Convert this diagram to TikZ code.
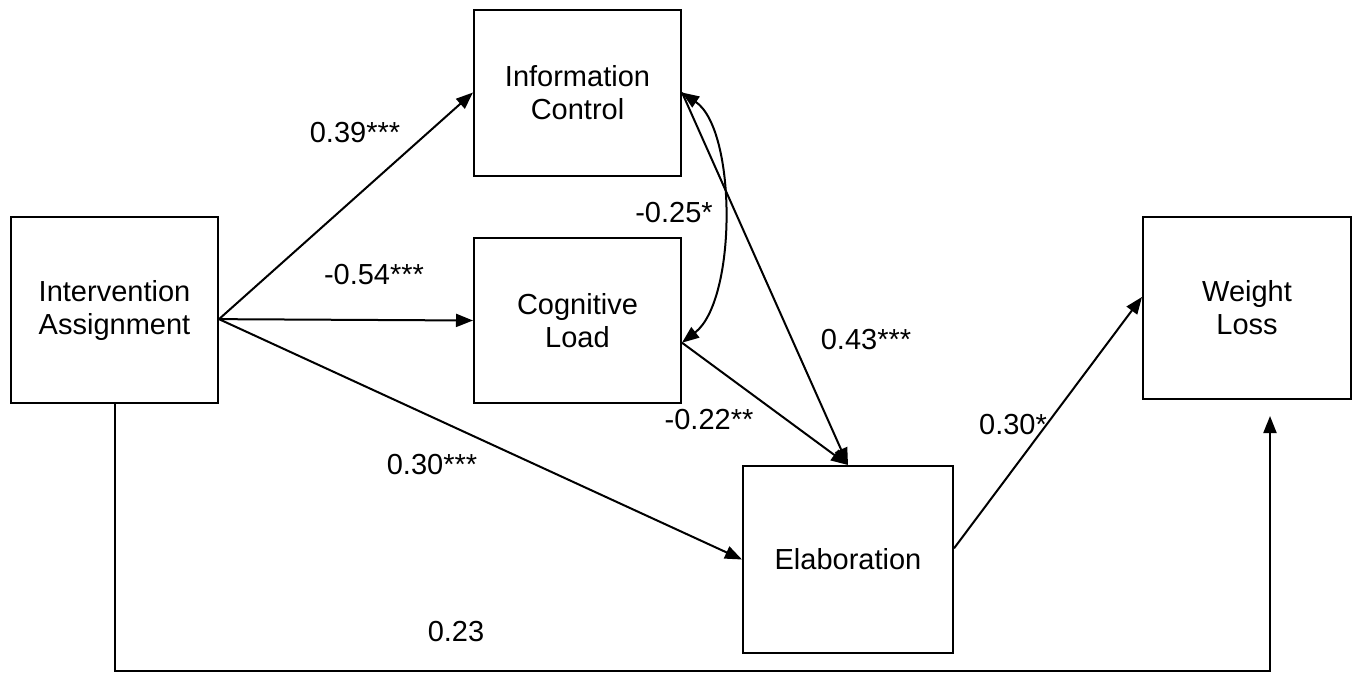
\documentclass[tikz,border=0pt]{standalone}
\usepackage{fontspec}
\setmainfont{Liberation Sans}
\usetikzlibrary{arrows.meta}

\tikzset{
  var/.style={draw,line width=2pt,minimum width=207pt,minimum height=166pt,
    align=center,inner sep=0pt},
  coef/.style={inner sep=0pt},
  path/.style={line width=2pt,-{Triangle[length=17pt,width=13pt]}},
}

\begin{document}
\begin{tikzpicture}[x=1pt,y=-1pt,font=\fontsize{29}{33}\selectfont]
\useasboundingbox (0,0) rectangle (1358,673);
% variables
\node[var,minimum height=186pt] (ia) at (114.5,310) {Intervention\\Assignment};
\node[var] (ic) at (577.5,92.5) {Information\\Control};
\node[var,minimum height=165pt] (cl) at (577.5,320.5) {Cognitive\\Load};
\node[var,minimum width=210pt,minimum height=187pt] (el) at (848,559.5) {Elaboration};
\node[var,minimum width=208pt,minimum height=182pt] (wl) at (1247,308) {Weight\\Loss};
\coordinate (corner) at (1270,671);
\coordinate (wltip) at (1270,416);
% paths
\foreach \a/\b in {ia.-5/ic.west,ia.-5/cl.west,ia.-5/el.west,ic.east/el.north,cl.-12/el.north,el.6/wl.174}
  \draw[path] (\a)--(\b);
\draw[path] (ia.south) |- (corner) -- (wltip);
\draw[line width=2pt,{Triangle[length=17pt,width=13pt]}-{Triangle[length=17pt,width=13pt]}]
  (ic.east) .. controls (737,130) and (737,300) .. (cl.-12);
% coefficients
\node[coef] (c1) at (355,133) {0.39***};
\node[coef] (c2) at (374,275) {-0.54***};
\node[coef] (c3) at (432,465) {0.30***};
\node[coef] (c4) at (674,213) {-0.25*};
\node[coef] (c5) at (866,340) {0.43***};
\node[coef] (c6) at (709,420) {-0.22**};
\node[coef] (c7) at (1013,425) {0.30*};
\node[coef] (c8) at (456,632) {0.23};
\end{tikzpicture}
\end{document}
